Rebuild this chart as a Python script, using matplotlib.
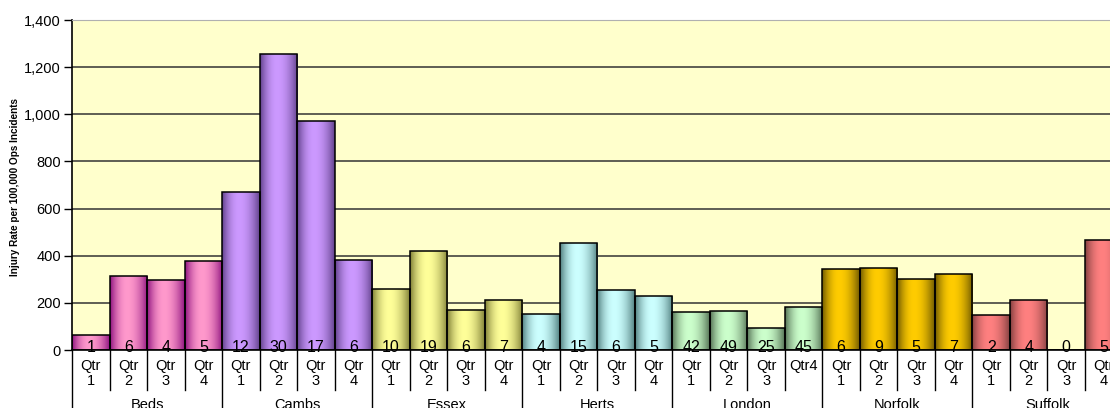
import matplotlib
matplotlib.use('Agg')
import matplotlib.pyplot as plt
import matplotlib.transforms as mtransforms
import numpy as np
from matplotlib.colors import to_rgb

plt.rcParams['font.family'] = ['Liberation Sans', 'DejaVu Sans']

regions = ['Beds', 'Cambs', 'Essex', 'Herts', 'London', 'Norfolk', 'Suffolk']
quarters = ['Qtr\n1', 'Qtr\n2', 'Qtr\n3', 'Qtr\n4']
london_quarters = ['Qtr\n1', 'Qtr\n2', 'Qtr\n3', 'Qtr4']

rates = {
	'Beds': [64, 313, 297, 376],
	'Cambs': [669, 1254, 973, 380],
	'Essex': [260, 422, 168, 214],
	'Herts': [154, 454, 256, 227],
	'London': [161, 164, 95, 184],
	'Norfolk': [345, 350, 303, 323],
	'Suffolk': [150, 211, 0, 465],
}
counts = {
	'Beds': [1, 6, 4, 5],
	'Cambs': [12, 30, 17, 6],
	'Essex': [10, 19, 6, 7],
	'Herts': [4, 15, 6, 5],
	'London': [42, 49, 25, 45],
	'Norfolk': [6, 9, 5, 7],
	'Suffolk': [2, 4, 0, 5],
}
# (light, dark) colours of each region's gradient
colours = {
	'Beds': ('#ff99cc', '#8f1480'),
	'Cambs': ('#cc99ff', '#62428c'),
	'Essex': ('#ffff99', '#808036'),
	'Herts': ('#ccffff', '#528080'),
	'London': ('#ccffcc', '#557255'),
	'Norfolk': ('#ffcc00', '#705a00'),
	'Suffolk': ('#ff8080', '#844040'),
}


def gradient(light, dark, n=64):
	t = np.linspace(0, 1, n)
	w = np.where(t < 0.45, 1 - ((0.45 - t) / 0.45) ** 2, 1 - ((t - 0.45) / 0.55) ** 2)
	w = np.clip(w, 0, 1)
	l = np.array(to_rgb(light))
	d = np.array(to_rgb(dark))
	return (d[None, :] * (1 - w[:, None]) + l[None, :] * w[:, None])[None, :, :]


def main():
	fig = plt.figure(figsize=(11.1, 4.08), dpi=100)
	ax = fig.add_axes([72 / 1110, 58 / 408, 1050.5 / 1110, 330 / 408])
	ax.set_facecolor('#ffffcc')

	heights, labels, cols, ticks = [], [], [], []
	for r in regions:
		heights += rates[r]
		labels += counts[r]
		cols += [colours[r]] * 4
		ticks += london_quarters if r == 'London' else quarters
	x = np.arange(len(heights))

	ax.set_yticks(np.arange(0, 1401, 200))
	ax.set_yticklabels(['{:,}'.format(v) for v in range(0, 1401, 200)], fontsize=10.5)
	ax.yaxis.grid(True, color='#333333', lw=1.1)
	ax.set_axisbelow(True)
	ax.tick_params(axis='y', length=6, width=1, pad=2)
	ax.set_xticks([])
	ax.spines['right'].set_visible(False)
	ax.spines['top'].set_color('#b0b0b0')
	ax.spines['left'].set_linewidth(1.2)
	ax.spines['bottom'].set_linewidth(1.2)

	bars = ax.bar(x, heights, width=1.0, color='none', edgecolor='black', lw=1.1, zorder=3)
	for b, h, (light, dark) in zip(bars, heights, cols):
		if h <= 0:
			continue
		im = ax.imshow(gradient(light, dark), extent=[b.get_x(), b.get_x() + b.get_width(), 0, h],
			aspect='auto', zorder=2, interpolation='bilinear')
		im.set_clip_path(b)

	for xi, c in zip(x, labels):
		ax.text(xi, 12, str(c), ha='center', va='center', fontsize=11.5, zorder=5)

	ax.set_xlim(-0.5, len(heights) - 0.5)
	ax.set_ylim(0, 1400)

	# category table under the axis
	trans = mtransforms.blended_transform_factory(ax.transData, fig.transFigure)
	for xi, t in zip(x, ticks):
		if t == 'Qtr4':
			ax.text(xi, 1 - 366 / 408, t, transform=trans, ha='center', va='center', fontsize=10.5)
		else:
			ax.text(xi, 1 - 366 / 408, 'Qtr', transform=trans, ha='center', va='center', fontsize=10.5)
			ax.text(xi, 1 - 381 / 408, t.split('\n')[1], transform=trans, ha='center', va='center', fontsize=10.5)
	for i in range(len(heights) + 1):
		xe = i - 0.5
		bottom = 0 if i % 4 == 0 else 1 - 390 / 408
		ax.plot([xe, xe], [1 - 350 / 408, bottom], transform=trans, color='black', lw=1, clip_on=False)
	for k, r in enumerate(regions):
		ax.text(4 * k + 1.5, 1 - 405 / 408, r, transform=trans, ha='center', va='center', fontsize=10.5)

	fig.text(15 / 1110, 1 - 187 / 408, 'Injury Rate per 100,000 Ops Incidents', rotation=90,
		ha='center', va='center', fontsize=7.2, fontweight='bold')

	fig.savefig('out.png', dpi=100)


if __name__ == '__main__':
	main()
